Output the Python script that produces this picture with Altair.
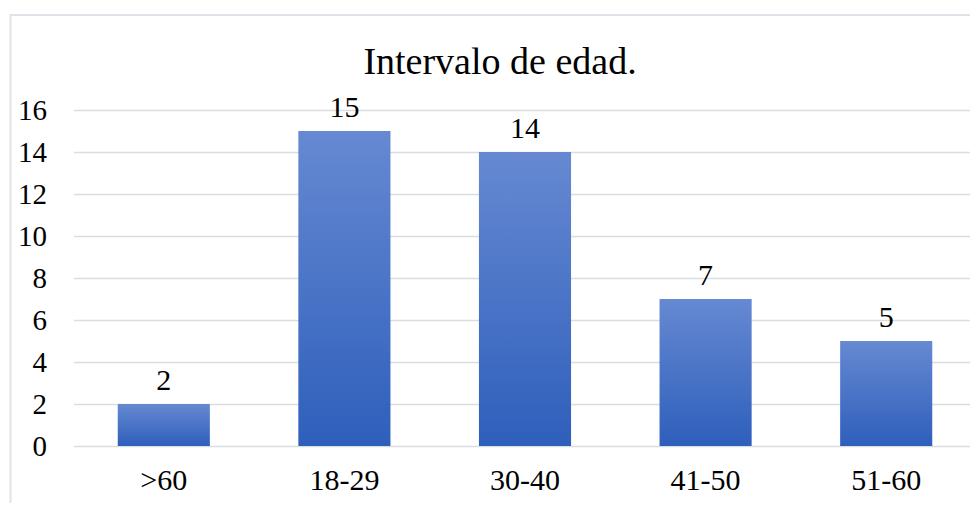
import altair as alt
import pandas as pd

categories = [">60", "18-29", "30-40", "41-50", "51-60"]
values = [2, 15, 14, 7, 5]
title_text = "Intervalo de edad."
y_ticks = [0, 2, 4, 6, 8, 10, 12, 14, 16]

df = pd.DataFrame({"cat": categories, "val": values})
one = pd.DataFrame({"t": [title_text]})
FONT = "Liberation Serif"

x = alt.X("cat:N", sort=categories, title=None,
          scale=alt.Scale(paddingInner=0.49, paddingOuter=0.245, range=[0, 903]),
          axis=alt.Axis(labelAngle=0, labelFont=FONT, labelFontSize=30, labelColor="#000000",
                        labelPadding=19, ticks=False, domain=False, grid=False))
y = alt.Y("val:Q", title=None,
          scale=alt.Scale(domain=[0, 16], nice=False),
          axis=alt.Axis(values=y_ticks, labelFont=FONT, labelFontSize=29, labelColor="#000000",
                        labelPadding=27, ticks=False, domain=False, grid=True,
                        gridColor="#d9dde3", gridWidth=1.5))

border = alt.Chart(one).mark_rect(fill=None, stroke="#dfe2e8", strokeWidth=2, clip=False).encode(
    x=alt.value(-63), y=alt.value(-95), x2=alt.value(1000), y2=alt.value(500)
)

bars = alt.Chart(df).mark_bar(
    color=alt.Gradient(gradient="linear",
                       stops=[alt.GradientStop(color="#6689d2", offset=0),
                              alt.GradientStop(color="#2e5fbb", offset=1)],
                       x1=0, x2=0, y1=0, y2=1)
).encode(x=x, y=y)

labels = alt.Chart(df).mark_text(font=FONT, fontSize=30, color="#000000",
                                 baseline="bottom", dy=-8).encode(
    x=alt.X("cat:N", sort=categories), y="val:Q", text="val:Q")

title = alt.Chart(one).mark_text(font=FONT, fontSize=38, fontWeight="normal", color="#000000",
                                 baseline="middle", align="center").encode(
    x=alt.value(426.5), y=alt.value(-47), text="t:N")

chart = alt.layer(border, bars, labels, title).properties(
    width=896, height=336,
    autosize=alt.AutoSizeParams(type="none"),
    padding={"left": 65.5, "top": 102, "right": 0, "bottom": 57},
).configure_view(stroke=None)

chart.save("out.html", embed_options={"renderer": "svg", "actions": False})
